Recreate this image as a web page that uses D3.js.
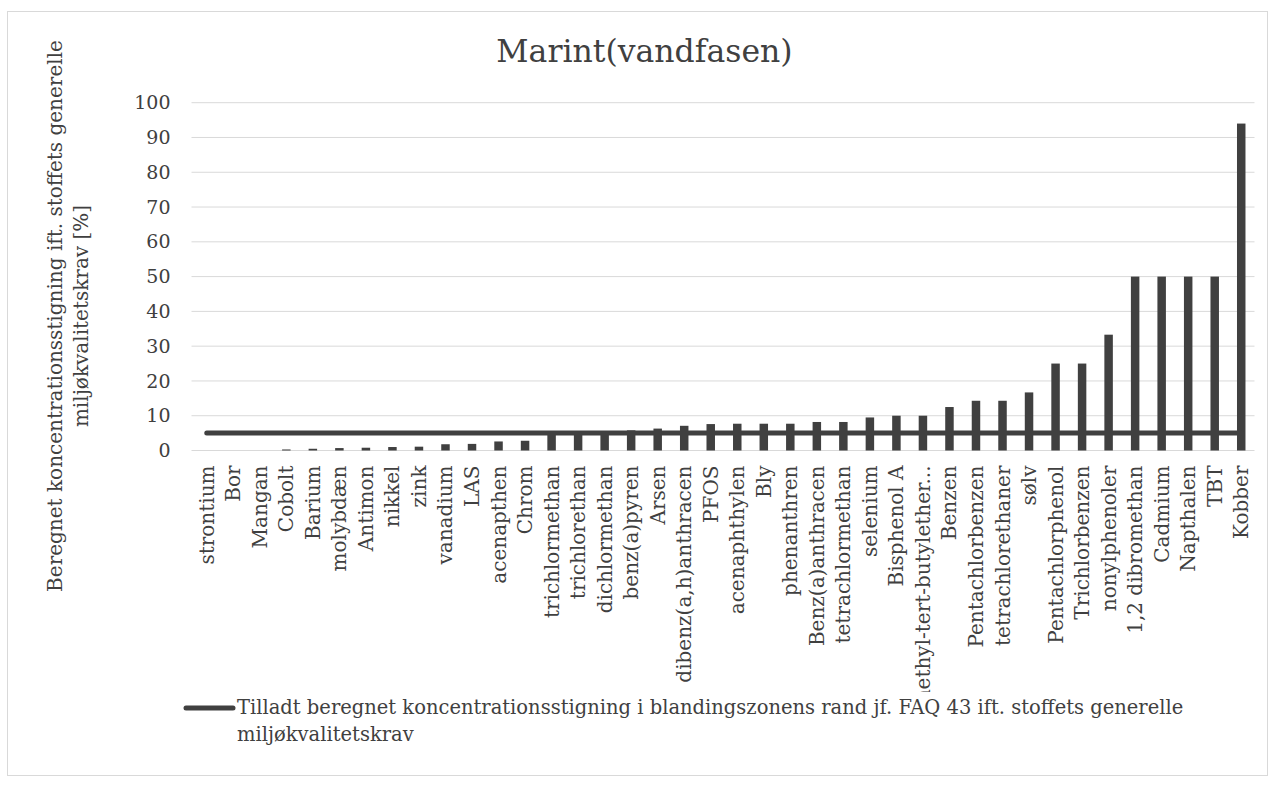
<!DOCTYPE html>
<html>
<head>
<meta charset="utf-8">
<script src="https://cdn.jsdelivr.net/npm/d3@7"></script>
<style>
  html, body { margin: 0; padding: 0; background: #fff; }
  svg { display: block; }
  text { font-family: "DejaVu Serif", serif; fill: #404040; }
</style>
</head>
<body>
<svg id="chart" width="1274" height="787"></svg>
<script>
const categories = ["strontium","Bor","Mangan","Cobolt","Barium","molybdæn","Antimon","nikkel","zink","vanadium","LAS","acenapthen","Chrom","trichlormethan","trichlorethan","dichlormethan","benz(a)pyren","Arsen","dibenz(a,h)anthracen","PFOS","acenaphthylen","Bly","phenanthren","Benz(a)anthracen","tetrachlormethan","selenium","Bisphenol A","methyl-tert-butylether...","Benzen","Pentachlorbenzen","tetrachlorethaner","sølv","Pentachlorphenol","Trichlorbenzen","nonylphenoler","1,2 dibromethan","Cadmium","Napthalen","TBT","Kobber"];
const barValues = [0,0,0,0.3,0.5,0.7,0.8,1.0,1.1,1.8,1.9,2.6,2.8,4.8,5,5,5.8,6.3,7.1,7.6,7.7,7.7,7.7,8.2,8.2,9.5,10,10,12.5,14.3,14.3,16.7,25,25,33.3,50,50,50,50,94];
const limitValues = categories.map(() => 5);
const yTicks = [0,10,20,30,40,50,60,70,80,90,100];
const titleText = "Marint(vandfasen)";
const yTitleLines = ["Beregnet koncentrationsstigning ift. stoffets generelle", "miljøkvalitetskrav [%]"];
const legendLines = ["Tilladt beregnet koncentrationsstigning i blandingszonens rand jf. FAQ 43 ift. stoffets generelle", "miljøkvalitetskrav"];

const svg = d3.select("#chart");
const dark = "#404040";

// outer border
svg.append("rect").attr("x", 7.5).attr("y", 11.5).attr("width", 1260).attr("height", 764)
  .attr("fill", "none").attr("stroke", "#d9d9d9").attr("stroke-width", 1);

const plot = { left: 193.5, right: 1254.5, top: 102.7, bottom: 450.5 };

const x = d3.scaleBand().domain(categories).range([plot.left, plot.right])
  .paddingInner(0.68).paddingOuter(0.34);
const y = d3.scaleLinear().domain([0, 100]).range([plot.bottom, plot.top]);

// clip for category labels
svg.append("defs").append("clipPath").attr("id", "xlabClip")
  .append("rect").attr("x", 0).attr("y", 0).attr("width", 1274).attr("height", 692);

// gridlines
svg.append("g").selectAll("line").data(yTicks).join("line")
  .attr("x1", plot.left - 2).attr("x2", plot.right)
  .attr("y1", d => y(d)).attr("y2", d => y(d))
  .attr("stroke", "#d9d9d9").attr("stroke-width", 1);

// y axis labels
const yAxis = d3.axisLeft(y).tickValues(yTicks).tickSize(0).tickPadding(0);
const yg = svg.append("g").attr("transform", `translate(${plot.left - 23},0)`).call(yAxis);
yg.select(".domain").remove();
yg.selectAll("text").style("font-family", '"DejaVu Serif", serif').style("font-size", "19px").attr("fill", dark);

// bars
svg.append("g").selectAll("rect").data(categories).join("rect")
  .attr("x", d => x(d)).attr("width", x.bandwidth())
  .attr("y", (d, i) => y(barValues[i]))
  .attr("height", (d, i) => y(0) - y(barValues[i]))
  .attr("fill", dark);

// limit line
const line = d3.line().x((d, i) => x(categories[i]) + x.bandwidth() / 2).y(d => y(d));
svg.append("path").datum(limitValues).attr("d", line)
  .attr("fill", "none").attr("stroke", dark).attr("stroke-width", 5).attr("stroke-linecap", "round");

// x axis labels
const xAxis = d3.axisBottom(x).tickSize(0).tickPadding(0);
const xOuter = svg.append("g").attr("clip-path", "url(#xlabClip)");
const xg = xOuter.append("g").attr("transform", `translate(0,${plot.bottom})`).call(xAxis);
xg.select(".domain").remove();
xg.selectAll("text")
  .style("font-family", '"DejaVu Serif", serif').style("font-size", "20px").attr("fill", dark)
  .attr("text-anchor", "end")
  .attr("transform", "rotate(-90)")
  .attr("x", -15).attr("y", 0).attr("dy", "0.35em");

// title
svg.append("text").attr("x", 644.5).attr("y", 62).attr("text-anchor", "middle")
  .style("font-size", "31.5px").text(titleText);

// y title
const yt = svg.append("text").attr("transform", "translate(62,316) rotate(-90)")
  .attr("text-anchor", "middle").style("font-size", "20px");
yTitleLines.forEach((t, i) => {
  yt.append("tspan").attr("x", 0).attr("y", i * 26).text(t);
});

// legend
svg.append("line").attr("x1", 186).attr("x2", 233).attr("y1", 708).attr("y2", 708)
  .attr("stroke", dark).attr("stroke-width", 5).attr("stroke-linecap", "round");
const lt = svg.append("text").style("font-size", "19.5px");
legendLines.forEach((t, i) => {
  lt.append("tspan").attr("x", 237).attr("y", 714 + i * 27).text(t);
});
</script>
</body>
</html>
